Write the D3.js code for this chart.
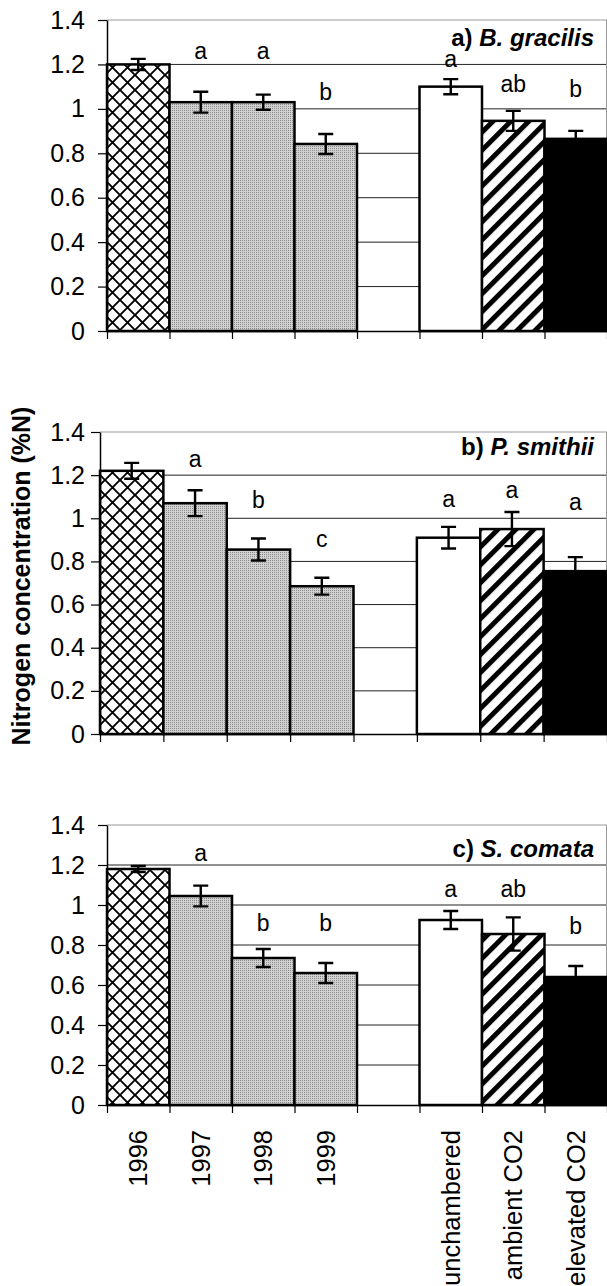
<!DOCTYPE html>
<html><head><meta charset="utf-8">
<script src="https://cdn.jsdelivr.net/npm/d3@7"></script>
<style>body{margin:0;background:#fff}svg{display:block}</style>
</head><body><svg id="chart" width="607" height="1286"></svg>
<script>
// ---------- data ----------
const categories = ["1996","1997","1998","1999","gap","unchambered","ambient CO2","elevated CO2"];
const tickLabels = ["1996","1997","1998","1999","","unchambered","ambient CO2","elevated CO2"];
const fillKinds  = ["cross","grey","grey","grey","none","white","stripe","black"];
const yTicks = [0,0.2,0.4,0.6,0.8,1,1.2,1.4];
const panelPrefix  = ["a) ","b) ","c) "];
const panelSpecies = ["B. gracilis","P. smithii","S. comata"];
const yAxisTitle = "Nitrogen concentration (%N)";

const valuesA = [1.20, 1.03, 1.03, 0.842, null, 1.10, 0.946, 0.865];
const errorsA = [0.025,0.047,0.034,0.045, null, 0.034,0.045,0.036];
const lettersA = ["","a","a","b","","a","ab","b"];
const letterPosA = [null,1.225,1.225,1.04,null,1.19,1.076,1.054];

const valuesB = [1.22, 1.07, 0.855, 0.685, null, 0.91, 0.95, 0.755];
const errorsB = [0.037,0.06, 0.051, 0.039, null, 0.05, 0.079,0.065];
const lettersB = ["","a","b","c","","a","a","a"];
const letterPosB = [null,1.238,1.048,0.867,null,1.052,1.094,1.038];

const valuesC = [1.18, 1.045, 0.735, 0.66, null, 0.925, 0.855, 0.64];
const errorsC = [0.015,0.052, 0.045, 0.05, null, 0.045, 0.083, 0.055];
const lettersC = ["","a","b","b","","a","ab","b"];
const letterPosC = [null,1.22,0.87,0.87,null,1.04,1.04,0.855];

// ---------- layout ----------
const FONT = "'Liberation Sans', Arial, Helvetica, sans-serif";
const layouts = [
  {left:107, right:607, top:20,  bottom:331,  titleY:46},
  {left:100, right:607, top:432, bottom:734,  titleY:455},
  {left:107, right:607, top:825, bottom:1105, titleY:857}
];
const panelsData = [
  {values:valuesA, errors:errorsA, letters:lettersA, letterPos:letterPosA},
  {values:valuesB, errors:errorsB, letters:lettersB, letterPos:letterPosB},
  {values:valuesC, errors:errorsC, letters:lettersC, letterPos:letterPosC}
];

const svg = d3.select("#chart");
svg.append("rect").attr("width",607).attr("height",1286).attr("fill","#fff");

// ---------- patterns ----------
const defs = svg.append("defs");
const pc = defs.append("pattern").attr("id","pCross").attr("patternUnits","userSpaceOnUse")
  .attr("width",15).attr("height",15);
pc.append("rect").attr("width",15).attr("height",15).attr("fill","#fff");
pc.append("path").attr("d","M0,0L15,15M15,0L0,15M-1,14L1,16M14,-1L16,1M14,16L16,14M-1,1L1,-1")
  .attr("stroke","#000").attr("stroke-width",1.9);

const pg = defs.append("pattern").attr("id","pGrey").attr("patternUnits","userSpaceOnUse")
  .attr("width",2).attr("height",2);
pg.append("rect").attr("width",2).attr("height",2).attr("fill","#d2d2d2");
pg.append("rect").attr("width",1).attr("height",1).attr("fill","#8a8a8a");

const ps = defs.append("pattern").attr("id","pStripe").attr("patternUnits","userSpaceOnUse")
  .attr("width",12.7).attr("height",12.7).attr("patternTransform","rotate(45)");
ps.append("rect").attr("width",12.7).attr("height",12.7).attr("fill","#fff");
ps.append("rect").attr("x",0).attr("width",5).attr("height",12.7).attr("fill","#000");

const fillFor = k => ({cross:"url(#pCross)", grey:"url(#pGrey)", stripe:"url(#pStripe)", white:"#fff", black:"#000"}[k]);

// ---------- panels ----------
panelsData.forEach((pd, pi) => {
  const L = layouts[pi];
  const g = svg.append("g");
  const x = d3.scaleBand().domain(categories).range([L.left, L.right]).padding(0);
  const xi = d3.scaleLinear().domain([0, categories.length]).range([L.left, L.right]);
  const y = d3.scaleLinear().domain([0, 1.4]).range([L.bottom, L.top]);

  // gridlines
  g.append("g").selectAll("line").data(yTicks.filter(t => t > 0 && t < 1.4)).join("line")
    .attr("x1", L.left).attr("x2", L.right)
    .attr("y1", d => y(d)).attr("y2", d => y(d))
    .attr("stroke", "#222").attr("stroke-width", 1);
  // plot border top and right
  g.append("line").attr("x1", L.left).attr("x2", L.right).attr("y1", y(1.4)).attr("y2", y(1.4))
    .attr("stroke", "#999").attr("stroke-width", 1.2);
  g.append("line").attr("x1", L.right - 0.5).attr("x2", L.right - 0.5).attr("y1", y(1.4)).attr("y2", y(0))
    .attr("stroke", "#999").attr("stroke-width", 1);

  const rows = categories.map((c, i) => ({c, i, v: pd.values[i], e: pd.errors[i], kind: fillKinds[i],
    letter: pd.letters[i], lp: pd.letterPos[i]})).filter(d => d.v != null);

  // bars
  g.append("g").selectAll("rect").data(rows).join("rect")
    .attr("x", d => x(d.c)).attr("width", x.bandwidth())
    .attr("y", d => y(d.v)).attr("height", d => y(0) - y(d.v))
    .attr("fill", d => fillFor(d.kind))
    .attr("stroke", "#000").attr("stroke-width", 2.5);

  // error bars
  const eb = g.append("g").attr("stroke", "#000").attr("stroke-width", 2.4).attr("fill", "none");
  eb.selectAll("path").data(rows).join("path")
    .attr("d", d => {
      const cx = x(d.c) + x.bandwidth() / 2, hw = 7.5;
      const yt = y(d.v + d.e), yb = y(d.v - d.e);
      return `M${cx},${yt}V${yb}M${cx - hw},${yt}H${cx + hw}M${cx - hw},${yb}H${cx + hw}`;
    });

  // significance letters
  g.append("g").selectAll("text").data(rows.filter(d => d.letter)).join("text")
    .attr("x", d => x(d.c) + x.bandwidth() / 2).attr("y", d => y(d.lp))
    .attr("text-anchor", "middle").attr("font-family", FONT).attr("font-size", 23)
    .attr("fill", "#000").text(d => d.letter);

  // y axis
  const ya = g.append("g").attr("transform", `translate(${L.left},0)`)
    .call(d3.axisLeft(y).tickValues(yTicks).tickSize(9).tickPadding(L.left - 85 - 9)
      .tickSizeOuter(0).tickFormat(d => d === 0 ? "0" : d === 1 ? "1" : d3.format(".1f")(d)));
  ya.select(".domain").attr("stroke", "#000").attr("stroke-width", 1.5);
  ya.selectAll(".tick line").attr("stroke", "#000").attr("stroke-width", 1.2);
  ya.selectAll(".tick text").attr("font-family", FONT).attr("font-size", 25).attr("fill", "#000");

  // x axis (ticks at category boundaries)
  const xa = g.append("g").attr("transform", `translate(0,${L.bottom})`)
    .call(d3.axisBottom(xi).tickValues(d3.range(categories.length + 1)).tickSize(8)
      .tickSizeOuter(0).tickFormat(""));
  xa.select(".domain").attr("stroke", "#000").attr("stroke-width", 1.5);
  xa.selectAll(".tick line").attr("stroke", "#000").attr("stroke-width", 1.2);

  // panel title
  const t = g.append("text").attr("x", 594).attr("y", L.titleY).attr("text-anchor", "end")
    .attr("font-family", FONT).attr("font-size", 24).attr("font-weight", "bold").attr("fill", "#000");
  t.append("tspan").text(panelPrefix[pi]);
  t.append("tspan").attr("font-style", "italic").text(panelSpecies[pi]);

  // category labels only on bottom panel
  if (pi === 2) {
    g.append("g").selectAll("text").data(categories.map((c, i) => ({c, label: tickLabels[i]})).filter(d => d.label))
      .join("text")
      .attr("transform", d => `translate(${x(d.c) + x.bandwidth() / 2 + 9},1130) rotate(-90)`)
      .attr("text-anchor", "end").attr("font-family", FONT).attr("font-size", 25.5).attr("fill", "#000")
      .text(d => d.label);
  }
});

// y axis title
svg.append("text").attr("transform", "translate(30,576) rotate(-90)")
  .attr("text-anchor", "middle").attr("font-family", FONT).attr("font-size", 25)
  .attr("font-weight", "bold").attr("fill", "#000").text(yAxisTitle);
</script></body></html>
